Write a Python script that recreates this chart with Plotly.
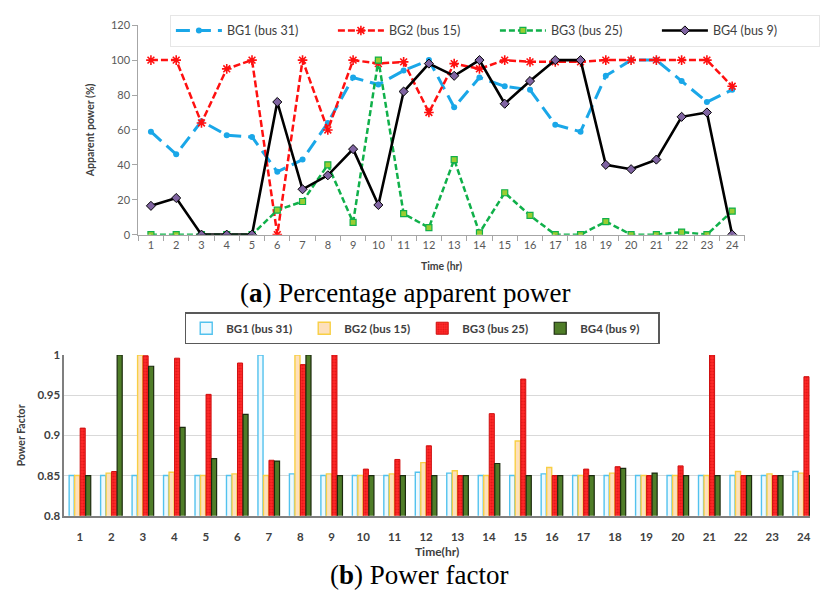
import plotly.graph_objects as go

W, H = 820, 599

hours = [str(h) for h in range(1, 25)]

# Percentage apparent power of each biogas generator (%)
bg1_s = [59, 46, 65, 57, 56, 36, 43, 64, 90, 86, 94, 100,
         73, 90, 85, 83, 63, 59, 91, 100, 100, 88, 76, 83]
bg2_s = [100, 100, 64, 95, 100, 0, 100, 60, 100, 98, 99, 70,
         98, 95, 100, 99, 99, 99, 100, 100, 100, 100, 100, 85]
bg3_s = [0, 0, 0, 0, 0, 14, 19, 40, 7, 100, 12, 4,
         43, 1, 24, 11, 0, 0, 7.5, 0, 0, 1.5, 0, 13.5]
bg4_s = [16.5, 21, 0, 0, 0, 76, 26, 34, 49, 17, 82, 98,
         91, 100, 75, 88, 100, 100, 40, 37.5, 43, 67.5, 70, 0]

# Power factor of each biogas generator
bg1_pf = [0.85, 0.85, 0.85, 0.85, 0.85, 0.85, 1.0, 0.852, 0.85, 0.85, 0.85, 0.854,
          0.853, 0.85, 0.85, 0.852, 0.85, 0.85, 0.85, 0.85, 0.85, 0.85, 0.85, 0.855]
bg2_pf = [0.85, 0.853, 1.0, 0.854, 0.85, 0.852, 0.85, 1.0, 0.852, 0.85, 0.852, 0.866,
          0.856, 0.85, 0.893, 0.86, 0.85, 0.853, 0.85, 0.85, 0.85, 0.855, 0.852, 0.853]
bg3_pf = [0.909, 0.855, 0.999, 0.996, 0.951, 0.99, 0.869, 0.988, 1.0, 0.858, 0.87, 0.887,
          0.85, 0.927, 0.97, 0.85, 0.858, 0.861, 0.85, 0.862, 1.0, 0.85, 0.85, 0.973]
bg4_pf = [0.85, 1.0, 0.986, 0.91, 0.871, 0.926, 0.868, 1.0, 0.85, 0.85, 0.85, 0.85,
          0.85, 0.865, 0.85, 0.85, 0.85, 0.859, 0.853, 0.85, 0.85, 0.85, 0.85, 0.85]

names = ["BG1 (bus 31)", "BG2 (bus 15)", "BG3 (bus 25)", "BG4 (bus 9)"]


def px_x(p):
    return p / W


def px_y(p):
    return 1 - p / H


fig = go.Figure()

# ---- (a) line chart ----
fig.add_trace(go.Scatter(
    x=hours, y=bg1_s, name=names[0], mode="lines+markers",
    line=dict(color="#1aa7e8", width=3, dash="14px,7px"),
    marker=dict(symbol="circle", size=6, color="#1aa7e8"),
    xaxis="x", yaxis="y", legend="legend"))
fig.add_trace(go.Scatter(
    x=hours, y=bg2_s, name=names[1], mode="lines+markers",
    line=dict(color="#ff1010", width=2.5, dash="7px,3px"),
    marker=dict(symbol="asterisk-open", size=8,
                line=dict(color="#ff1010", width=1.6)),
    xaxis="x", yaxis="y", legend="legend"))
fig.add_trace(go.Scatter(
    x=hours, y=bg3_s, name=names[2], mode="lines+markers",
    line=dict(color="#10b04a", width=2.5, dash="6px,3px"),
    marker=dict(symbol="square", size=6, color="#9acd32",
                line=dict(color="#10b04a", width=1.2)),
    xaxis="x", yaxis="y", legend="legend"))
fig.add_trace(go.Scatter(
    x=hours, y=bg4_s, name=names[3], mode="lines+markers",
    line=dict(color="#000000", width=2.6),
    marker=dict(symbol="diamond", size=7, color="#8064a2",
                line=dict(color="#000000", width=1)),
    xaxis="x", yaxis="y", legend="legend"))

# ---- (b) grouped bars ----
fig.add_trace(go.Bar(
    x=hours, y=bg1_pf, name="<b>" + names[0] + "</b>",
    marker=dict(color="#eef9fe", line=dict(color="#52c2ee", width=1.4)),
    xaxis="x2", yaxis="y2", legend="legend2"))
fig.add_trace(go.Bar(
    x=hours, y=bg2_pf, name="<b>" + names[1] + "</b>",
    marker=dict(color="#fde0bd", line=dict(color="#f8cf45", width=1.4)),
    xaxis="x2", yaxis="y2", legend="legend2"))
fig.add_trace(go.Bar(
    x=hours, y=bg3_pf, name="<b>" + names[2] + "</b>",
    marker=dict(color="#ff2323", line=dict(color="#d01010", width=1),
                pattern=dict(shape=".", bgcolor="#ff2a2a", fgcolor="#c40000",
                             size=3, solidity=0.35)),
    xaxis="x2", yaxis="y2", legend="legend2"))
fig.add_trace(go.Bar(
    x=hours, y=bg4_pf, name="<b>" + names[3] + "</b>",
    marker=dict(color="#4f7d28", line=dict(color="#1b2a0e", width=1.2)),
    xaxis="x2", yaxis="y2", legend="legend2"))

tick_font = dict(family="Lato, Open Sans, sans-serif", size=11, color="#595959")
bold_font = dict(family="Lato, Open Sans, sans-serif", size=11.5, color="#404040")

fig.update_layout(
    width=W, height=H,
    margin=dict(l=0, r=0, t=0, b=0),
    paper_bgcolor="white", plot_bgcolor="white",
    showlegend=True,
    barmode="group", bargap=0.3, bargroupgap=0.08,
    xaxis=dict(
        domain=[px_x(140), px_x(754)], anchor="y", type="category",
        range=[-0.5, 23.5], showgrid=False, zeroline=False,
        showline=True, linecolor="#a6a6a6", linewidth=1,
        ticks="outside", tickson="boundaries", ticklen=5, tickcolor="#a6a6a6",
        tickfont=tick_font,
        title=dict(text="<b>Time (hr)</b>", font=dict(family="Lato, sans-serif", size=10.5, color="#404040"),
                   standoff=12)),
    yaxis=dict(
        domain=[px_y(232.7), px_y(18.6)], anchor="x",
        range=[0, 120], dtick=20, showgrid=False, zeroline=False,
        showline=True, linecolor="#a6a6a6", linewidth=1,
        ticks="outside", ticklen=5, tickcolor="#a6a6a6",
        tickfont=tick_font,
        title=dict(text="<b>Apparent power (%)</b>", font=dict(family="Lato, sans-serif", size=10.5, color="#404040"),
                   standoff=14)),
    xaxis2=dict(
        domain=[px_x(65), 1.0], anchor="y2", type="category",
        range=[-0.5, 23.2], showgrid=False, zeroline=False,
        showline=True, linecolor="#7f7f7f", linewidth=1.5,
        ticks="outside", ticklen=10, tickcolor="rgba(0,0,0,0)",
        tickfont=bold_font,
        tickprefix="<b>", ticksuffix="</b>",
        title=dict(text="<b>Time(hr)</b>", font=dict(family="Lato, sans-serif", size=12, color="#404040"),
                   standoff=5)),
    yaxis2=dict(
        domain=[px_y(520), px_y(355.7)], anchor="x2",
        range=[0.8, 1.0], dtick=0.05, showgrid=True, gridcolor="#d9d9d9",
        zeroline=False, showline=True, linecolor="#7f7f7f", linewidth=1.5,
        ticks="", tickfont=bold_font,
        tickprefix="<b>", ticksuffix="</b>",
        title=dict(text="<b>Power Factor</b>", font=dict(family="Lato, sans-serif", size=10.5, color="#404040"),
                   standoff=10)),
    legend=dict(
        orientation="h", x=px_x(172), y=px_y(8), xanchor="left", yanchor="top",
        bordercolor="#e6e6e6", borderwidth=1, bgcolor="white",
        font=dict(family="Lato, Open Sans, sans-serif", size=12.5, color="#404040"),
        itemwidth=46, entrywidth=101, entrywidthmode="pixels",
        tracegroupgap=0, itemclick=False),
    legend2=dict(
        orientation="h", x=px_x(187), y=px_y(312), xanchor="left", yanchor="top",
        bordercolor="#595959", borderwidth=1.5, bgcolor="white",
        font=dict(family="Lato, Open Sans, sans-serif", size=11.5, color="#404040"),
        itemwidth=30, entrywidth=73, entrywidthmode="pixels",
        tracegroupgap=0, itemclick=False),
    annotations=[
        dict(text="(<b>a</b>) Percentage apparent power", x=px_x(410), y=px_y(292),
             xref="paper", yref="paper", showarrow=False, xanchor="center", yanchor="middle",
             font=dict(family="Liberation Serif, serif", size=27, color="#000000")),
        dict(text="(<b>b</b>) Power factor", x=px_x(424), y=px_y(581),
             xref="paper", yref="paper", showarrow=False, xanchor="center", yanchor="middle",
             font=dict(family="Liberation Serif, serif", size=27, color="#000000")),
    ],
)

fig.write_html("out.html")
